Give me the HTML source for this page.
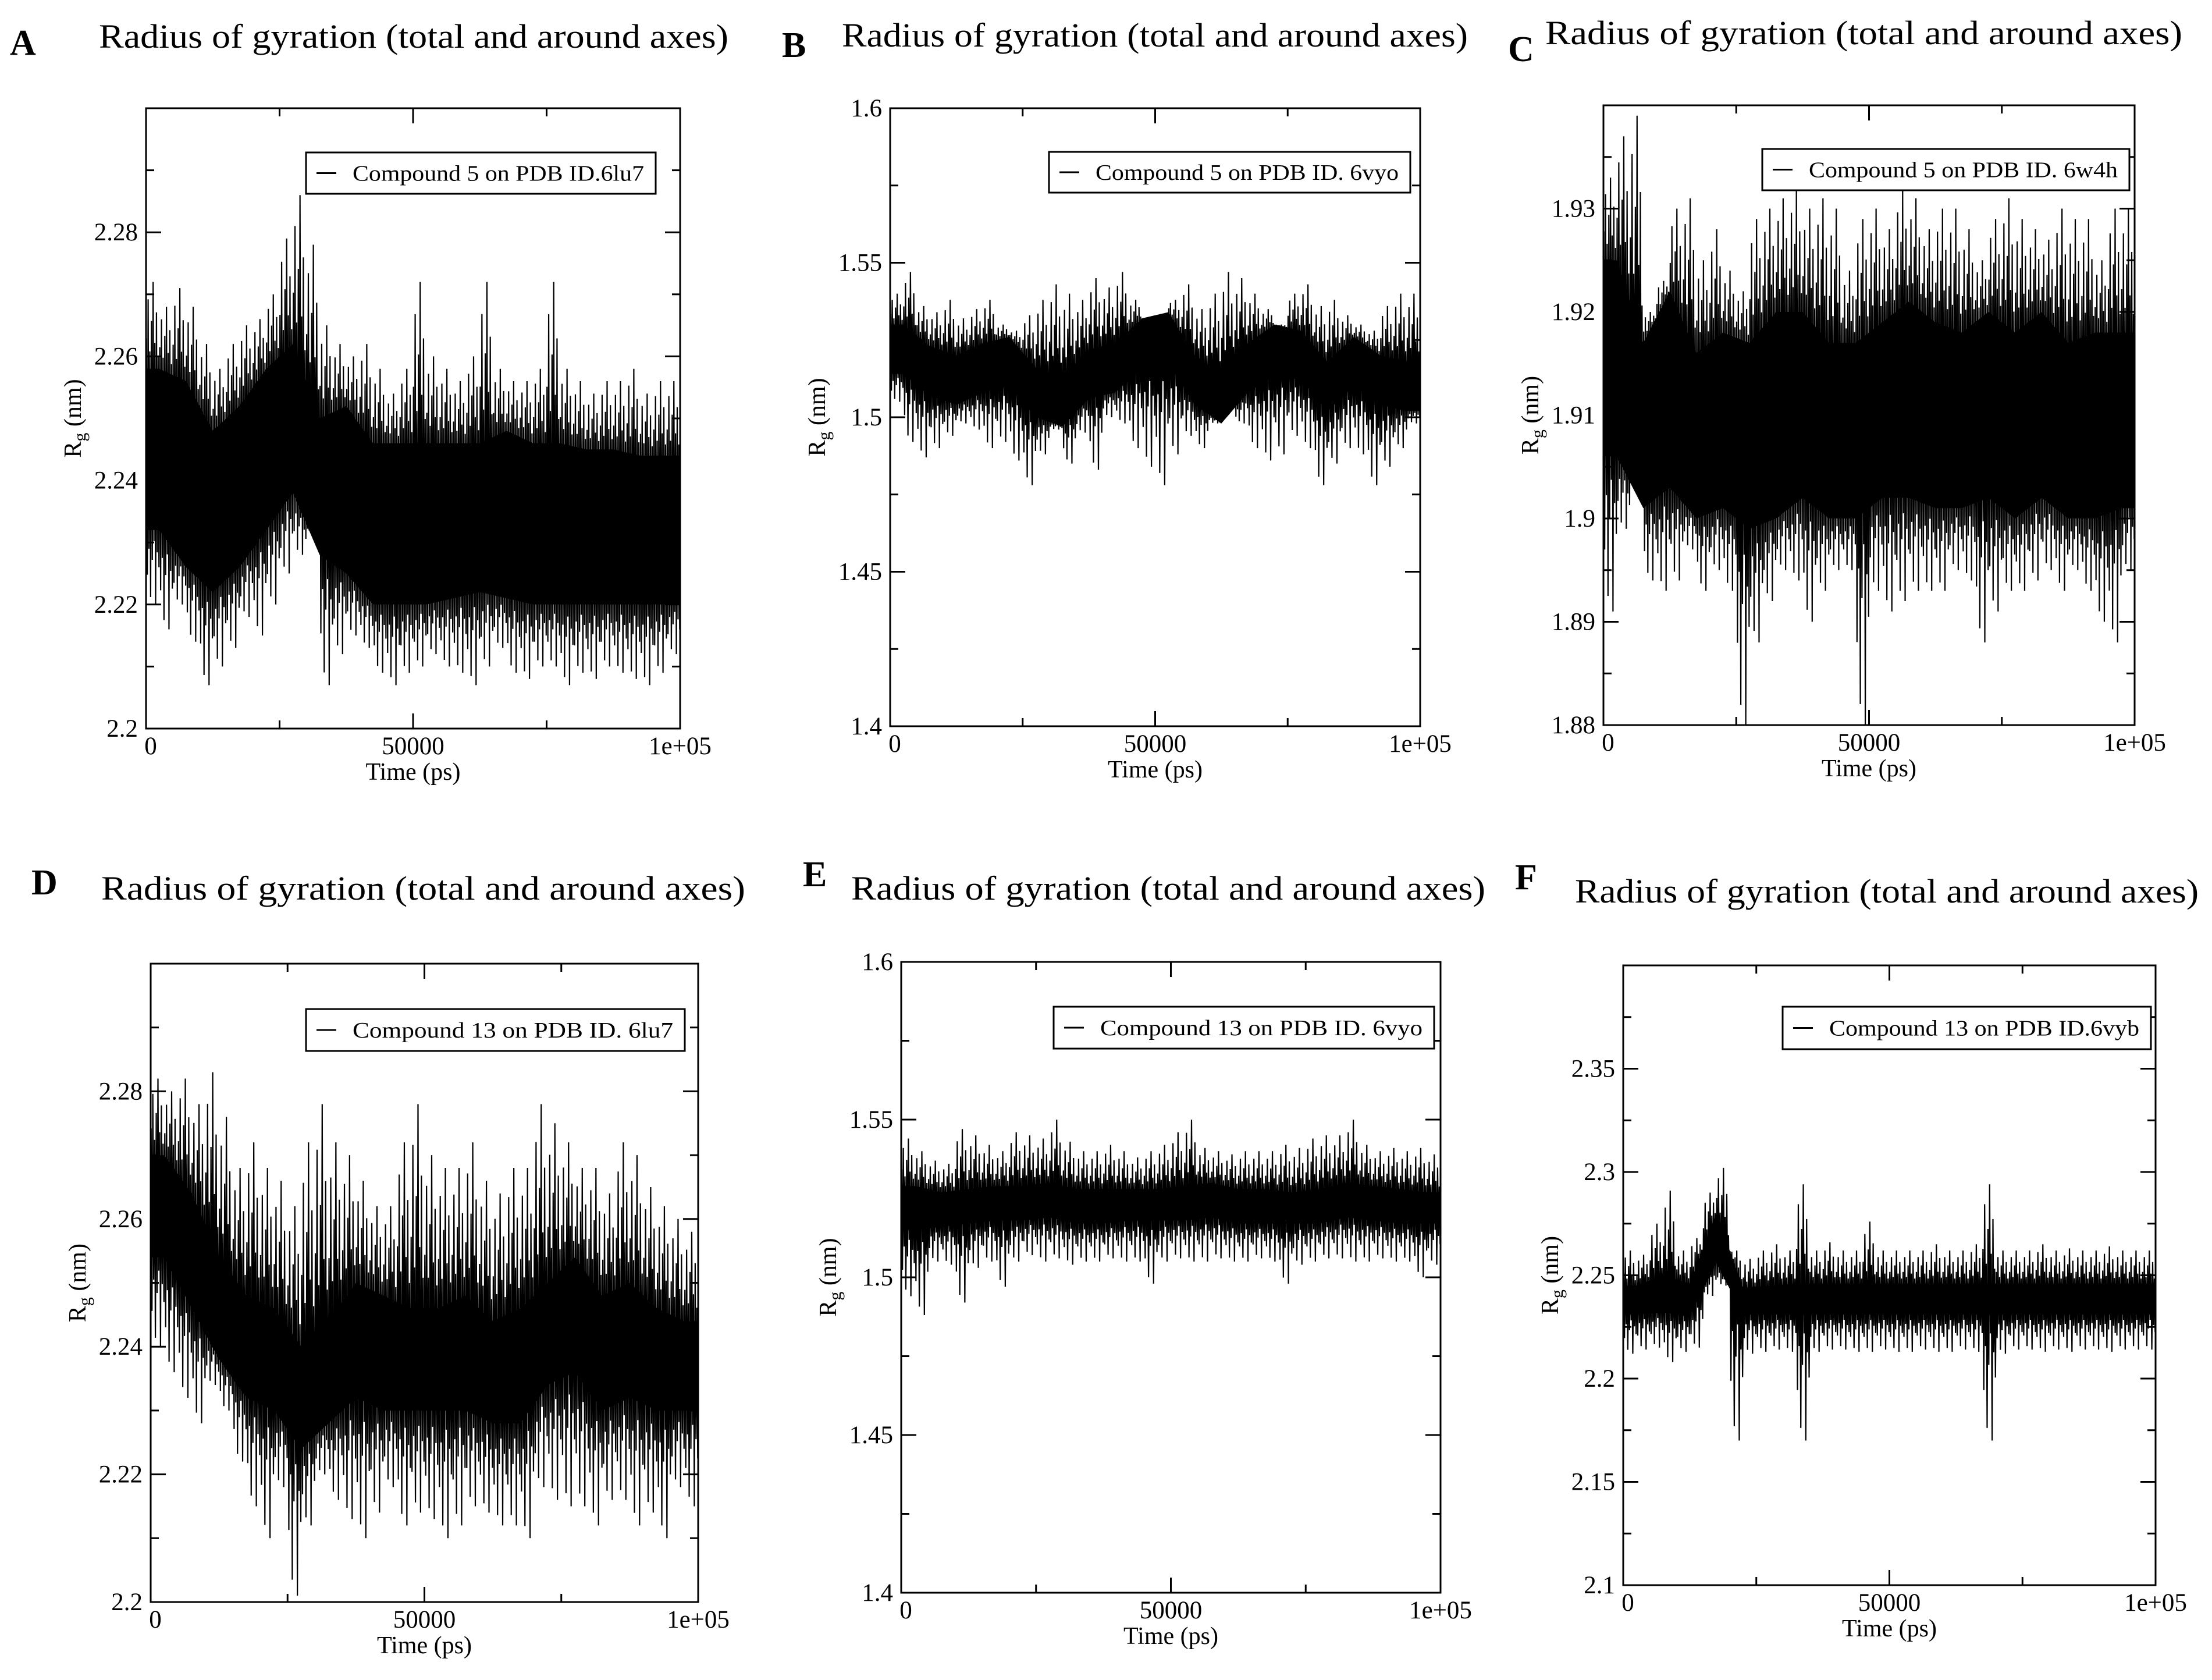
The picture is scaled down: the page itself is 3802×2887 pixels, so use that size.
<!DOCTYPE html>
<html><head><meta charset="utf-8"><style>
html,body{margin:0;padding:0;background:#fff;}
svg{display:block;font-family:"Liberation Serif",serif;}
</style></head><body>
<svg id="fig" width="3802" height="2887" viewBox="0 0 3802 2887" xmlns="http://www.w3.org/2000/svg">
<rect x="0" y="0" width="3802" height="2887" fill="#fff"/>
</svg>
<script>
// ---- data (value arrays per panel) ----
const xTickLabels = ["0","50000","1e+05"];
const xTickValues = [0,50000,100000];
const titleText = "Radius of gyration (total and around axes)";

const aYTicks = [2.2,2.22,2.24,2.26,2.28];
const aSpikeHi = [2.272,2.268,2.271,2.268,2.262,2.258,2.262,2.265,2.266,2.270,2.279,2.286,2.278,2.265,2.262,2.260,2.262,2.258,2.254,2.258,2.272,2.260,2.258,2.256,2.260,2.272,2.258,2.256,2.256,2.258,2.272,2.258,2.256,2.254,2.256,2.256,2.258,2.254,2.256,2.256];
const aSpikeLo = [2.220,2.216,2.220,2.214,2.207,2.210,2.213,2.218,2.215,2.220,2.225,2.228,2.232,2.207,2.212,2.215,2.213,2.209,2.207,2.209,2.210,2.212,2.210,2.209,2.207,2.210,2.213,2.209,2.208,2.210,2.210,2.207,2.209,2.208,2.210,2.209,2.208,2.207,2.209,2.212];
const aCoreHi = [2.258,2.256,2.248,2.252,2.258,2.262,2.250,2.252,2.246,2.246,2.246,2.246,2.246,2.248,2.246,2.246,2.245,2.245,2.244,2.244];
const aCoreLo = [2.232,2.226,2.222,2.226,2.232,2.238,2.228,2.225,2.220,2.220,2.220,2.221,2.222,2.221,2.220,2.220,2.220,2.220,2.220,2.220];

const bYTicks = [1.4,1.45,1.5,1.55,1.6];
const bSpikeHi = [1.540,1.547,1.536,1.534,1.538,1.532,1.535,1.538,1.530,1.528,1.533,1.538,1.543,1.540,1.538,1.545,1.542,1.547,1.538,1.530,1.530,1.538,1.543,1.535,1.540,1.547,1.545,1.540,1.535,1.530,1.540,1.543,1.536,1.538,1.533,1.530,1.528,1.536,1.540,1.540];
const bSpikeLo = [1.505,1.492,1.487,1.490,1.494,1.498,1.496,1.490,1.492,1.486,1.478,1.488,1.496,1.485,1.495,1.483,1.500,1.498,1.490,1.484,1.478,1.488,1.494,1.490,1.498,1.504,1.498,1.490,1.486,1.488,1.494,1.490,1.478,1.485,1.490,1.488,1.478,1.484,1.490,1.498];
const bCoreHi = [1.530,1.523,1.520,1.524,1.526,1.516,1.513,1.522,1.524,1.532,1.534,1.520,1.514,1.524,1.530,1.528,1.518,1.526,1.520,1.518];
const bCoreLo = [1.514,1.507,1.504,1.508,1.510,1.500,1.497,1.506,1.508,1.516,1.518,1.504,1.498,1.508,1.514,1.512,1.502,1.510,1.504,1.502];

const cYTicks = [1.88,1.89,1.9,1.91,1.92,1.93];
const cSpikeHi = [1.933,1.937,1.939,1.920,1.923,1.930,1.931,1.925,1.928,1.924,1.922,1.929,1.930,1.931,1.932,1.930,1.931,1.930,1.924,1.929,1.930,1.928,1.932,1.931,1.928,1.930,1.930,1.928,1.925,1.929,1.931,1.929,1.928,1.927,1.930,1.929,1.929,1.925,1.930,1.930];
const cSpikeLo = [1.891,1.899,1.905,1.894,1.893,1.894,1.897,1.893,1.895,1.893,1.880,1.888,1.892,1.895,1.894,1.890,1.893,1.895,1.895,1.880,1.893,1.891,1.892,1.893,1.893,1.893,1.895,1.894,1.888,1.891,1.893,1.893,1.894,1.895,1.893,1.895,1.893,1.890,1.888,1.895];
const cCoreHi = [1.925,1.917,1.922,1.916,1.918,1.917,1.920,1.920,1.917,1.917,1.919,1.921,1.919,1.918,1.920,1.918,1.920,1.917,1.918,1.918];
const cCoreLo = [1.906,1.901,1.903,1.900,1.901,1.899,1.900,1.902,1.900,1.900,1.902,1.902,1.901,1.901,1.902,1.900,1.902,1.900,1.900,1.901];

const dYTicks = [2.2,2.22,2.24,2.26,2.28];
const dSpikeHi = [2.282,2.280,2.282,2.278,2.283,2.276,2.268,2.272,2.268,2.266,2.262,2.272,2.278,2.272,2.270,2.266,2.262,2.262,2.272,2.278,2.270,2.268,2.268,2.272,2.266,2.264,2.268,2.268,2.278,2.275,2.272,2.268,2.268,2.264,2.272,2.270,2.265,2.262,2.260,2.258];
const dSpikeLo = [2.240,2.236,2.232,2.228,2.234,2.230,2.222,2.215,2.210,2.218,2.201,2.212,2.220,2.216,2.213,2.210,2.214,2.218,2.212,2.214,2.213,2.210,2.212,2.215,2.214,2.212,2.212,2.210,2.218,2.216,2.215,2.215,2.212,2.216,2.216,2.212,2.214,2.210,2.218,2.215];
const dCoreHi = [2.270,2.264,2.254,2.248,2.246,2.240,2.244,2.250,2.248,2.246,2.246,2.248,2.244,2.246,2.250,2.254,2.248,2.250,2.246,2.244];
const dCoreLo = [2.254,2.246,2.238,2.232,2.230,2.224,2.228,2.232,2.230,2.230,2.230,2.230,2.228,2.228,2.234,2.236,2.230,2.232,2.230,2.230];

const eYTicks = [1.4,1.45,1.5,1.55,1.6];
const eSpikeHi = [1.544,1.540,1.537,1.536,1.547,1.545,1.542,1.540,1.546,1.545,1.544,1.550,1.543,1.540,1.540,1.542,1.540,1.538,1.540,1.542,1.546,1.550,1.541,1.540,1.539,1.540,1.540,1.540,1.542,1.541,1.544,1.545,1.545,1.550,1.542,1.540,1.541,1.540,1.541,1.539];
const eSpikeLo = [1.494,1.488,1.505,1.504,1.492,1.503,1.505,1.497,1.505,1.507,1.505,1.506,1.504,1.505,1.505,1.506,1.505,1.505,1.498,1.505,1.506,1.505,1.505,1.506,1.505,1.505,1.506,1.505,1.498,1.504,1.505,1.506,1.506,1.505,1.505,1.506,1.505,1.505,1.500,1.504];
const eCoreHi = [1.529,1.527,1.528,1.529,1.529,1.530,1.528,1.528,1.528,1.528,1.529,1.530,1.528,1.528,1.527,1.528,1.530,1.529,1.528,1.527];
const eCoreLo = [1.515,1.516,1.517,1.518,1.518,1.519,1.517,1.517,1.518,1.518,1.518,1.519,1.517,1.517,1.517,1.517,1.519,1.518,1.517,1.517];

const fYTicks = [2.1,2.15,2.2,2.25,2.3,2.35];
const fSpikeHi = [2.262,2.260,2.275,2.291,2.262,2.268,2.290,2.302,2.262,2.258,2.262,2.265,2.262,2.294,2.262,2.266,2.262,2.262,2.276,2.262,2.262,2.262,2.262,2.265,2.262,2.262,2.265,2.294,2.262,2.262,2.262,2.265,2.262,2.263,2.262,2.262,2.264,2.262,2.262,2.262];
const fSpikeLo = [2.212,2.214,2.215,2.208,2.213,2.215,2.240,2.245,2.170,2.212,2.213,2.214,2.213,2.170,2.213,2.214,2.214,2.213,2.213,2.214,2.213,2.213,2.214,2.213,2.213,2.214,2.213,2.170,2.212,2.214,2.214,2.213,2.214,2.213,2.214,2.214,2.213,2.214,2.214,2.214];
const fCoreHi = [2.245,2.250,2.246,2.280,2.244,2.245,2.246,2.246,2.246,2.246,2.246,2.246,2.246,2.246,2.246,2.246,2.246,2.246,2.246,2.246];
const fCoreLo = [2.231,2.232,2.230,2.256,2.231,2.231,2.231,2.231,2.231,2.231,2.231,2.231,2.231,2.231,2.231,2.231,2.231,2.231,2.231,2.231];

const legendTexts = ["Compound 5 on PDB ID.6lu7","Compound 5 on PDB ID. 6vyo","Compound 5 on PDB ID. 6w4h","Compound 13 on PDB ID. 6lu7","Compound 13 on PDB ID. 6vyo","Compound 13 on PDB ID.6vyb"];
const panelLetters = ["A","B","C","D","E","F"];

// ---- layout (pixel geometry, not data) ----
const panels = [
 {L:251,R:1169,T:186,B:1252,ymin:2.2,ymax:2.3,minor:0.01,yt:aYTicks,hi:aSpikeHi,lo:aSpikeLo,ch:aCoreHi,cl:aCoreLo,lg:[526,262,1127,333],tx:170,ty:82,tw:1082,lx:17,ly:94},
 {L:1530,R:2441,T:186,B:1248,ymin:1.4,ymax:1.6,minor:0.025,yt:bYTicks,hi:bSpikeHi,lo:bSpikeLo,ch:bCoreHi,cl:bCoreLo,lg:[1803,261,2424,331],tx:1447,ty:80,tw:1076,lx:1344,ly:98},
 {L:2756,R:3669,T:181,B:1246,ymin:1.88,ymax:1.94,minor:0.005,yt:cYTicks,hi:cSpikeHi,lo:cSpikeLo,ch:cCoreHi,cl:cCoreLo,lg:[3029,256,3660,327],tx:2656,ty:76,tw:1095,lx:2592,ly:105},
 {L:259,R:1200,T:1656,B:2753,ymin:2.2,ymax:2.3,minor:0.01,yt:dYTicks,hi:dSpikeHi,lo:dSpikeLo,ch:dCoreHi,cl:dCoreLo,lg:[526,1734,1177,1806],tx:174,ty:1546,tw:1107,lx:54,ly:1537},
 {L:1549,R:2476,T:1653,B:2737,ymin:1.4,ymax:1.6,minor:0.025,yt:eYTicks,hi:eSpikeHi,lo:eSpikeLo,ch:eCoreHi,cl:eCoreLo,lg:[1811,1730,2465,1802],tx:1463,ty:1546,tw:1090,lx:1380,ly:1523},
 {L:2790,R:3705,T:1659,B:2724,ymin:2.1,ymax:2.4,minor:0.025,yt:fYTicks,hi:fSpikeHi,lo:fSpikeLo,ch:fCoreHi,cl:fCoreLo,lg:[3064,1730,3697,1803],tx:2707,ty:1551,tw:1072,lx:2604,ly:1528}
];
// fixed rendering pattern for sub-bin texture (fraction of reach toward extremes)
const upPat = [0.35,0.8,0.2,0.55,1.0,0.3,0.65,0.15];
const dnPat = [0.6,0.25,0.9,0.4,0.15,1.0,0.3,0.5];

const NS="http://www.w3.org/2000/svg";
const svg=document.getElementById('fig');
function mk(tag,attrs,parent){const e=document.createElementNS(NS,tag);for(const k in attrs)e.setAttribute(k,attrs[k]);(parent||svg).appendChild(e);return e;}

panels.forEach((p,pi)=>{
  const g=mk('g',{});
  
  
  const xs=v=>p.L+(v-0)/100000*(p.R-p.L);
  const ys=v=>p.B-(v-p.ymin)/(p.ymax-p.ymin)*(p.B-p.T);

  const letter=mk('text',{x:p.lx,y:p.ly,'font-size':62,'font-weight':'bold'},g);
  letter.textContent=panelLetters[pi];
  
  
  const title=mk('text',{x:p.tx,y:p.ty,'font-size':58,textLength:p.tw,lengthAdjust:'spacingAndGlyphs'},g);
  title.textContent=titleText;
  
  

  const clip=mk('clipPath',{id:'clip'+pi},g);
  mk('rect',{x:p.L,y:p.T,width:p.R-p.L,height:p.B-p.T},clip);
  const sg=mk('g',{'clip-path':'url(#clip'+pi+')'},g);
  
  
  const nc=p.ch.length, bw=100000/nc;
  const coreAt=(arr,t)=>{
    const f=t/bw-0.5; const i=Math.max(0,Math.min(nc-1,Math.floor(f))); const j=Math.min(nc-1,i+1);
    const w=Math.max(0,Math.min(1,f-i)); return arr[i]*(1-w)+arr[j]*w; };
  let pts=[];
  for(let k=0;k<=200;k++){const t=k*500;pts.push(xs(t)+','+ys(coreAt(p.ch,t)));}
  for(let k=200;k>=0;k--){const t=k*500;pts.push(xs(t)+','+ys(coreAt(p.cl,t)));}
  const band=mk('polygon',{points:pts.join(' '),fill:'#000'},sg);
  
  
  const ns=p.hi.length, sw=100000/ns, sub=upPat.length;
  let zz=[];
  p.hi.forEach((v,i)=>{
    for(let k=0;k<sub;k++){
      const t1=i*sw+(k+0.25)/sub*sw, t2=i*sw+(k+0.75)/sub*sw;
      const ch=coreAt(p.ch,t1), cl=coreAt(p.cl,t2);
      zz.push(xs(t1)+','+ys(ch+upPat[k]*(v-ch)));
      zz.push(xs(t2)+','+ys(cl-dnPat[k]*(cl-p.lo[i])));
    }
  });
  const zl=mk('polyline',{points:zz.join(' '),fill:'none',stroke:'#000','stroke-width':2.2,'stroke-linejoin':'miter'},sg);
  
  

  const fr=mk('rect',{x:p.L,y:p.T,width:p.R-p.L,height:p.B-p.T,fill:'none',stroke:'#000','stroke-width':3},g);
  
  
  for(let v=p.ymin;v<=p.ymax+1e-9;v+=p.minor){
    const major=p.yt.some(t=>Math.abs(t-v)<1e-6);
    const len=major?26:14, y=ys(v);
    mk('line',{x1:p.L,x2:p.L+len,y1:y,y2:y,stroke:'#000','stroke-width':3},g);
    mk('line',{x1:p.R,x2:p.R-len,y1:y,y2:y,stroke:'#000','stroke-width':3},g);
  }
  p.yt.forEach(t=>{
    const tl=mk('text',{x:p.L-14,y:ys(t)+14,'font-size':43,'text-anchor':'end'},g);
    tl.textContent=String(t);
    
    
  });
  for(let v=0;v<=100000;v+=25000){
    const major=v%50000===0, len=major?26:14, x=xs(v);
    mk('line',{x1:x,x2:x,y1:p.B,y2:p.B-len,stroke:'#000','stroke-width':3},g);
    mk('line',{x1:x,x2:x,y1:p.T,y2:p.T+len,stroke:'#000','stroke-width':3},g);
  }
  xTickValues.forEach((v,i)=>{
    const tl=mk('text',{x:xs(v)+(i==0?8:0),y:p.B+44,'font-size':43,'text-anchor':'middle'},g);
    tl.textContent=xTickLabels[i];
    
    
  });
  const xt=mk('text',{x:(p.L+p.R)/2,y:p.B+88,'font-size':42,'text-anchor':'middle'},g);
  xt.textContent='Time (ps)';
  
  
  const yx=p.L-112, yy=(p.T+p.B)/2;
  const yt=mk('text',{x:yx,y:yy,'font-size':42,'text-anchor':'middle',transform:'rotate(-90 '+yx+' '+yy+')'},g);
  yt.innerHTML='R<tspan font-size="30" dy="8">g</tspan><tspan dy="-8"> (nm)</tspan>';
  
  
  const [lx1,ly1,lx2,ly2]=p.lg;
  const lgG=mk('g',{},g);
  
  
  mk('rect',{x:lx1,y:ly1,width:lx2-lx1,height:ly2-ly1,fill:'#fff',stroke:'#000','stroke-width':3},lgG);
  const my=(ly1+ly2)/2;
  mk('line',{x1:lx1+18,x2:lx1+52,y1:my,y2:my,stroke:'#000','stroke-width':3},lgG);
  const lt=mk('text',{x:lx1+80,y:my+13,'font-size':38,textLength:lx2-lx1-100,lengthAdjust:'spacingAndGlyphs'},lgG);
  lt.textContent=legendTexts[pi];
  
  
});
</script>
</body></html>
